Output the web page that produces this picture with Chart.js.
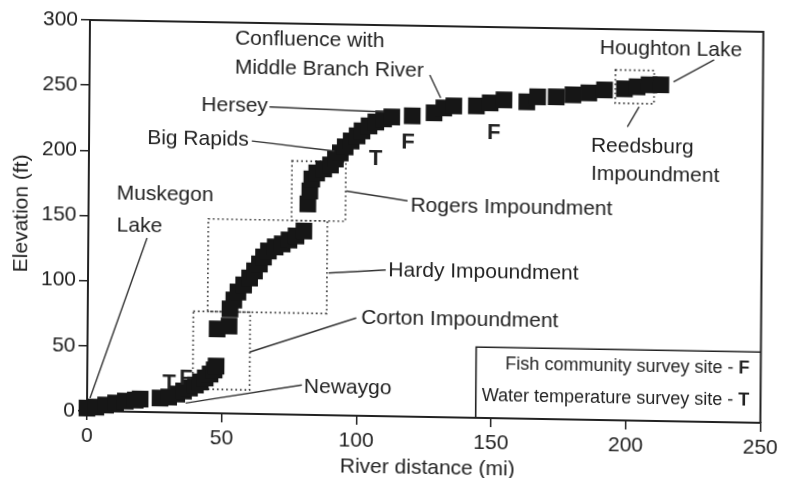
<!DOCTYPE html>
<html><head><meta charset="utf-8">
<script src="https://cdn.jsdelivr.net/npm/chart.js@4"></script>
<style>
html,body{margin:0;padding:0;background:#fff;}
#wrap{position:relative;width:785px;height:478px;overflow:hidden;background:#fff;}
canvas{position:absolute;left:0;top:0;transform-origin:90px 20px;transform:matrix(1,0.0176,-0.0077,1,0,0);}
</style></head><body>
<div id="wrap"><canvas id="c" width="785" height="478"></canvas></div>
<script>
// River profile (squares): river distance (mi) and elevation (ft)
const riverMiles = [0, 3.3, 6.9, 10.6, 14.2, 17.9, 19.7,
  27.1, 30.3, 33.3, 35.8, 38.0, 40.2, 42.0, 43.8, 45.6, 47.1, 47.8,
  48.1, 52.5,
  52.8, 54.2, 55.7, 57.8, 60.0, 61.8, 63.6, 65.1, 66.9, 69.4, 72.0, 74.5, 77.1, 80.0,
  81.4, 82.1, 82.8, 84.6, 87.2, 89.7, 91.5, 93.3, 95.1, 97.3, 99.5, 101.3, 103.9, 106.4, 109.3, 112.3,
  119.9, 128.0, 131.6, 135.3, 143.7, 148.8, 153.9, 162.4, 166.4, 173.3, 179.5, 185.4, 191.2, 198.6, 203.3, 207.7, 212.1];
const elevationFt = [2.2, 3.1, 4.8, 6.5, 8.1, 9.0, 9.9,
  10.9, 11.8, 14.2, 16.6, 19.0, 21.4, 23.8, 26.9, 30.0, 33.2, 36.2,
  64.7, 67.1,
  80.2, 87.1, 93.3, 98.8, 104.2, 109.7, 115.1, 120.5, 125.2, 128.4, 130.8, 133.9, 137.1, 141.0,
  161.8, 171.8, 181.0, 185.7, 188.9, 192.0, 196.7, 201.4, 206.1, 210.7, 214.7, 218.6, 222.5, 225.6, 228.1, 229.7,
  230.8, 233.4, 237.3, 239.0, 239.3, 241.8, 244.3, 243.1, 247.1, 247.3, 249.1, 250.8, 253.3, 254.4, 256.1, 257.8, 258.0];
const xTickValues = [0, 50, 100, 150, 200, 250];
const yTickValues = [0, 50, 100, 150, 200, 250, 300];

// Annotations (data coordinates)
const impoundmentBoxes = [
  {name: 'Corton', x0: 39.2, x1: 60.3, y0: 18.3, y1: 78},
  {name: 'Hardy', x0: 44.5, x1: 88.7, y0: 78, y1: 149},
  {name: 'Rogers', x0: 75.4, x1: 95.4, y0: 149, y1: 194.6},
  {name: 'Reedsburg', x0: 195.2, x1: 209.6, y0: 243.3, y1: 268.8}
];
const annotationLabels = [
  {text: 'Confluence with', x: 53.9, y: 287.4},
  {text: 'Middle Branch River', x: 53.9, y: 265.2},
  {text: 'Hersey', x: 41.6, y: 236.3},
  {text: 'Big Rapids', x: 21.6, y: 210.2},
  {text: 'Muskegon', x: 10.4, y: 166.9},
  {text: 'Lake', x: 10.5, y: 142.3},
  {text: 'Newaygo', x: 80.5, y: 21.3},
  {text: 'Corton Impoundment', x: 101.5, y: 75.1},
  {text: 'Hardy Impoundment', x: 111.5, y: 111.5},
  {text: 'Rogers Impoundment', x: 119.5, y: 161.7},
  {text: 'Houghton Lake', x: 189.3, y: 285.5},
  {text: 'Reedsburg', x: 186.3, y: 210.2},
  {text: 'Impoundment', x: 186.4, y: 188.7}
];
const leaderLines = [
  [126.3, 262.4, 130.4, 244.9],
  [66.9, 235.7, 109.3, 233.4],
  [60.4, 209.4, 91.1, 202.8],
  [21.8, 133.5, 1.1, 10.0],
  [79.7, 22.8, 36.6, 7.4],
  [60.2, 47.4, 99.7, 75.0],
  [89.3, 109.1, 110.5, 112.2],
  [95.6, 172.3, 118.4, 165.5],
  [216.8, 260.4, 231.8, 277.9],
  [204.1, 240.8, 199.8, 225.3]
];
const surveySites = [
  {code: 'T', x: 30.4, y: 22.6},
  {code: 'F', x: 36.6, y: 26.0},
  {code: 'T', x: 106.4, y: 197.0},
  {code: 'F', x: 118.4, y: 210.5},
  {code: 'F', x: 150.2, y: 218.6}
];
const legendItems = [
  {text: 'Fish community survey site - ', code: 'F', y: 41.2},
  {text: 'Water temperature survey site - ', code: 'T', y: 16.6}
];
const legendBox = {x0: 144.3, y1: 54.3, textRight: 245.8};

const FAM = "'Liberation Sans', Arial, Helvetica, sans-serif";
const INK = '#161616';
const TXT = '#222';

const annotate = {
  id: 'annotate',
  beforeDatasetsDraw(chart) {
    const {ctx, scales: {x, y}} = chart;
    ctx.save();
    ctx.strokeStyle = '#333';
    ctx.lineWidth = 1.6;
    ctx.setLineDash([1.6, 3]);
    impoundmentBoxes.forEach(b => {
      const l = x.getPixelForValue(b.x0), r = x.getPixelForValue(b.x1);
      const t = y.getPixelForValue(b.y1), bt = y.getPixelForValue(b.y0);
      ctx.strokeRect(l, t, r - l, bt - t);
    });
    ctx.restore();
  },
  afterDatasetsDraw(chart) {
    const {ctx, chartArea: ca, scales: {x, y}} = chart;
    ctx.save();
    // frame top & right
    ctx.strokeStyle = '#222';
    ctx.lineWidth = 2;
    ctx.beginPath();
    ctx.moveTo(ca.left, ca.top);
    ctx.lineTo(ca.right, ca.top);
    ctx.lineTo(ca.right, ca.bottom);
    ctx.stroke();
    // leader lines
    ctx.lineWidth = 1.4;
    ctx.strokeStyle = '#333';
    leaderLines.forEach(l => {
      ctx.beginPath();
      ctx.moveTo(x.getPixelForValue(l[0]), y.getPixelForValue(l[1]));
      ctx.lineTo(x.getPixelForValue(l[2]), y.getPixelForValue(l[3]));
      ctx.stroke();
    });
    // labels
    ctx.fillStyle = TXT;
    ctx.font = '21px ' + FAM;
    ctx.textAlign = 'left';
    ctx.textBaseline = 'middle';
    annotationLabels.forEach(a => {
      ctx.fillText(a.text, x.getPixelForValue(a.x), y.getPixelForValue(a.y));
    });
    // survey site letters
    ctx.font = 'bold 22px ' + FAM;
    ctx.textAlign = 'center';
    surveySites.forEach(s => {
      ctx.fillText(s.code, x.getPixelForValue(s.x), y.getPixelForValue(s.y));
    });
    // legend
    const lx = x.getPixelForValue(legendBox.x0), ly = y.getPixelForValue(legendBox.y1);
    ctx.strokeStyle = '#222';
    ctx.lineWidth = 1.6;
    ctx.beginPath();
    ctx.moveTo(lx, ca.bottom);
    ctx.lineTo(lx, ly);
    ctx.lineTo(ca.right, ly);
    ctx.stroke();
    const tr = x.getPixelForValue(legendBox.textRight);
    legendItems.forEach(it => {
      const py = y.getPixelForValue(it.y);
      ctx.textAlign = 'right';
      ctx.font = 'bold 18px ' + FAM;
      ctx.fillText(it.code, tr, py);
      const w = ctx.measureText(it.code).width;
      ctx.font = '18px ' + FAM;
      ctx.fillText(it.text, tr - w, py);
    });
    // axis titles
    ctx.font = '21px ' + FAM;
    ctx.textAlign = 'center';
    ctx.fillText('River distance (mi)', (ca.left + ca.right) / 2 + 4, ca.bottom + 51);
    ctx.translate(23.5, (ca.top + ca.bottom) / 2 - 1);
    ctx.rotate(-Math.PI / 2);
    ctx.fillText('Elevation (ft)', 0, 0);
    ctx.restore();
  }
};

Chart.defaults.font.family = FAM;
new Chart(document.getElementById('c'), {
  type: 'scatter',
  data: {
    datasets: [{
      data: riverMiles.map((v, i) => ({x: v, y: elevationFt[i]})),
      pointStyle: 'rect',
      pointRadius: 11.8,
      pointHoverRadius: 11.8,
      backgroundColor: INK,
      borderColor: INK,
      borderWidth: 0,
      showLine: false,
      clip: false
    }]
  },
  options: {
    responsive: false,
    animation: false,
    devicePixelRatio: 1,
    layout: {padding: {left: 0, right: 12, top: 20, bottom: 0}},
    plugins: {legend: {display: false}, tooltip: {enabled: false}},
    scales: {
      x: {
        type: 'linear', min: 0, max: 250,
        afterBuildTicks: s => { s.ticks = xTickValues.map(v => ({value: v})); },
        afterFit: s => { s.height = 67; },
        grid: {drawOnChartArea: false, drawTicks: true, tickLength: 9, color: '#222', lineWidth: 1.5},
        border: {display: true, color: '#222', width: 2},
        ticks: {font: {size: 21}, color: TXT, padding: 4, maxRotation: 0, autoSkip: false}
      },
      y: {
        type: 'linear', min: 0, max: 300,
        afterBuildTicks: s => { s.ticks = yTickValues.map(v => ({value: v})); },
        afterFit: s => { s.width = 90; },
        grid: {drawOnChartArea: false, drawTicks: true, tickLength: 9, color: '#222', lineWidth: 1.5},
        border: {display: true, color: '#222', width: 2},
        ticks: {font: {size: 21}, color: TXT, padding: 3, autoSkip: false}
      }
    }
  },
  plugins: [annotate]
});
</script>
</body></html>
